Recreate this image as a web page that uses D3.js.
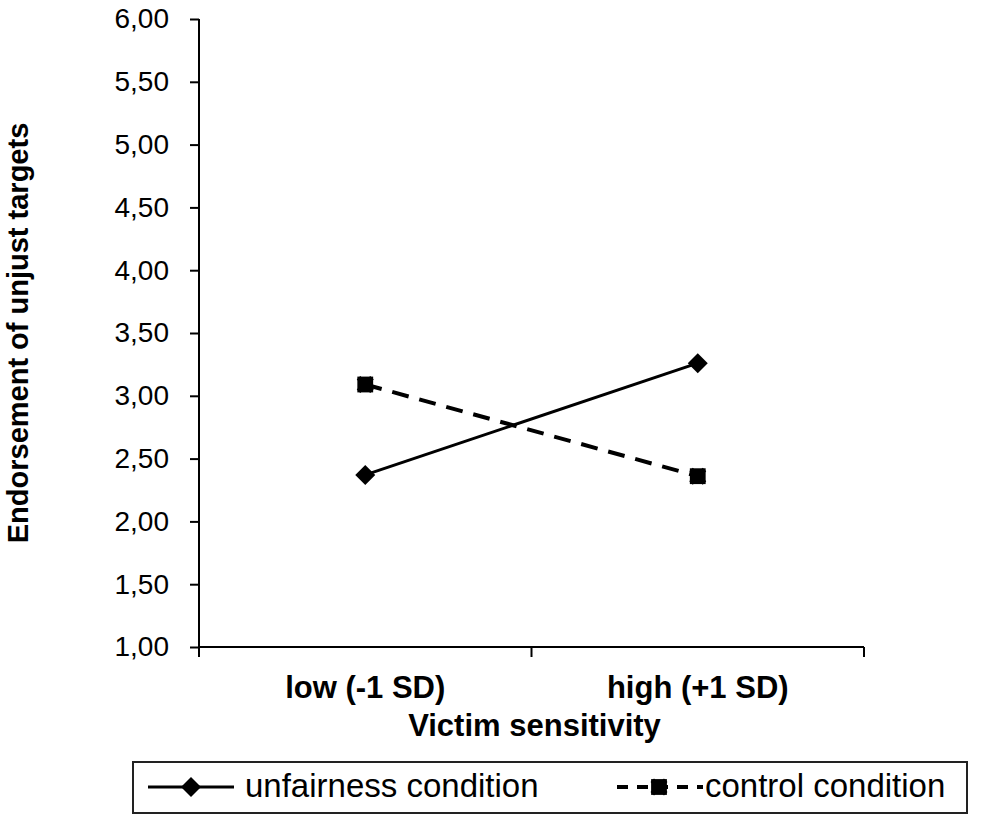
<!DOCTYPE html>
<html>
<head>
<meta charset="utf-8">
<script src="https://d3js.org/d3.v7.min.js"></script>
<style>
  body { margin: 0; background: #fff; }
  svg { display: block; font-family: "Liberation Sans", Arial, sans-serif; }
  .tick text { fill: #000; }
</style>
</head>
<body>
<svg id="chart" width="1000" height="824"></svg>
<script>
  // chart data
  const categories = ["low (-1 SD)", "high (+1 SD)"];
  const unfairness = [2.37, 3.26];
  const control = [3.09, 2.36];
  const yTickValues = [1, 1.5, 2, 2.5, 3, 3.5, 4, 4.5, 5, 5.5, 6];
  const seriesNames = ["unfairness condition", "control condition"];
  const xTitle = "Victim sensitivity";
  const yTitle = "Endorsement of unjust targets";

  const svg = d3.select("#chart");
  const plotLeft = 199, plotRight = 864, plotTop = 19, plotBottom = 647;

  // decimal comma like the original
  const locale = d3.formatLocale({ decimal: ",", thousands: ".", grouping: [3], currency: ["", ""] });
  const fmt = locale.format(".2f");

  const y = d3.scaleLinear().domain([1, 6]).range([plotBottom, plotTop]);
  const x = d3.scaleBand().domain(categories).range([plotLeft, plotRight]);

  // y axis
  const yAxis = svg.append("g")
    .attr("transform", `translate(${plotLeft},0)`)
    .call(d3.axisLeft(y).tickValues(yTickValues).tickFormat(fmt).tickSize(9).tickPadding(21));
  yAxis.select(".domain").attr("stroke", "#000").attr("stroke-width", 2)
    .attr("d", `M0,${plotTop}V${plotBottom + 10}`);
  yAxis.selectAll(".tick line").attr("stroke", "#000").attr("stroke-width", 2);
  yAxis.selectAll(".tick text").attr("font-size", 28);

  // x axis: labels centred in bands, ticks on band edges
  const xAxis = svg.append("g")
    .attr("transform", `translate(0,${plotBottom})`)
    .call(d3.axisBottom(x).tickSize(0).tickPadding(0));
  xAxis.select(".domain").attr("stroke", "#000").attr("stroke-width", 2)
    .attr("d", `M${plotLeft},0H${plotRight}`);
  xAxis.selectAll(".tick text")
    .attr("dy", null).attr("y", 51)
    .attr("font-size", 31).attr("font-weight", "bold");
  const edges = categories.map(c => x(c)).concat([x(categories[categories.length - 1]) + x.bandwidth()]);
  xAxis.selectAll(".edge").data(edges).enter().append("line")
    .attr("class", "edge")
    .attr("x1", d => d).attr("x2", d => d)
    .attr("y1", 0).attr("y2", 10)
    .attr("stroke", "#000").attr("stroke-width", 2);

  // axis titles
  svg.append("text")
    .attr("x", (plotLeft + plotRight) / 2 + 3).attr("y", 736)
    .attr("text-anchor", "middle")
    .attr("font-size", 31).attr("font-weight", "bold")
    .text(xTitle);

  svg.append("text")
    .attr("transform", `translate(28,333) rotate(-90)`)
    .attr("text-anchor", "middle")
    .attr("font-size", 29).attr("font-weight", "bold")
    .text(yTitle);

  const cx = d => x(d) + x.bandwidth() / 2;
  const line = d3.line().x((d, i) => cx(categories[i])).y(d => y(d));

  // markers
  function diamond(g, px, py) {
    g.append("path")
      .attr("d", d3.symbol(d3.symbolSquare, 200)())
      .attr("transform", `translate(${px},${py}) rotate(45)`)
      .attr("fill", "#000");
  }
  function squareX(g, px, py) {
    g.append("path")
      .attr("d", d3.symbol(d3.symbolSquare, 250)())
      .attr("transform", `translate(${px},${py})`)
      .attr("fill", "#000");
    g.append("path")
      .attr("d", d3.symbol(d3.symbolX, 120)())
      .attr("transform", `translate(${px},${py})`)
      .attr("fill", "none").attr("stroke", "#000").attr("stroke-width", 5);
  }

  const plot = svg.append("g");
  plot.append("path").datum(unfairness)
    .attr("d", line).attr("fill", "none").attr("stroke", "#000").attr("stroke-width", 3);
  plot.append("path").datum(control)
    .attr("d", line).attr("fill", "none").attr("stroke", "#000").attr("stroke-width", 4)
    .attr("stroke-dasharray", "17,11");
  unfairness.forEach((v, i) => diamond(plot, cx(categories[i]), y(v)));
  control.forEach((v, i) => squareX(plot, cx(categories[i]), y(v)));

  // legend
  const legend = svg.append("g");
  legend.append("rect")
    .attr("x", 133).attr("y", 762).attr("width", 834).attr("height", 51)
    .attr("fill", "none").attr("stroke", "#222").attr("stroke-width", 2);

  const lg1 = legend.append("g").attr("transform", "translate(148,787)");
  lg1.append("line").attr("x1", 0).attr("x2", 86).attr("stroke", "#000").attr("stroke-width", 3);
  diamond(lg1, 43, 0);
  lg1.append("text").attr("x", 97).attr("y", 10).attr("font-size", 33).text(seriesNames[0]);

  const lg2 = legend.append("g").attr("transform", "translate(617,787)");
  lg2.append("line").attr("x1", 0).attr("x2", 86).attr("stroke", "#000").attr("stroke-width", 4)
    .attr("stroke-dasharray", "11,9");
  squareX(lg2, 42, 0);
  lg2.append("text").attr("x", 88).attr("y", 10).attr("font-size", 33).text(seriesNames[1]);
</script>
</body>
</html>
